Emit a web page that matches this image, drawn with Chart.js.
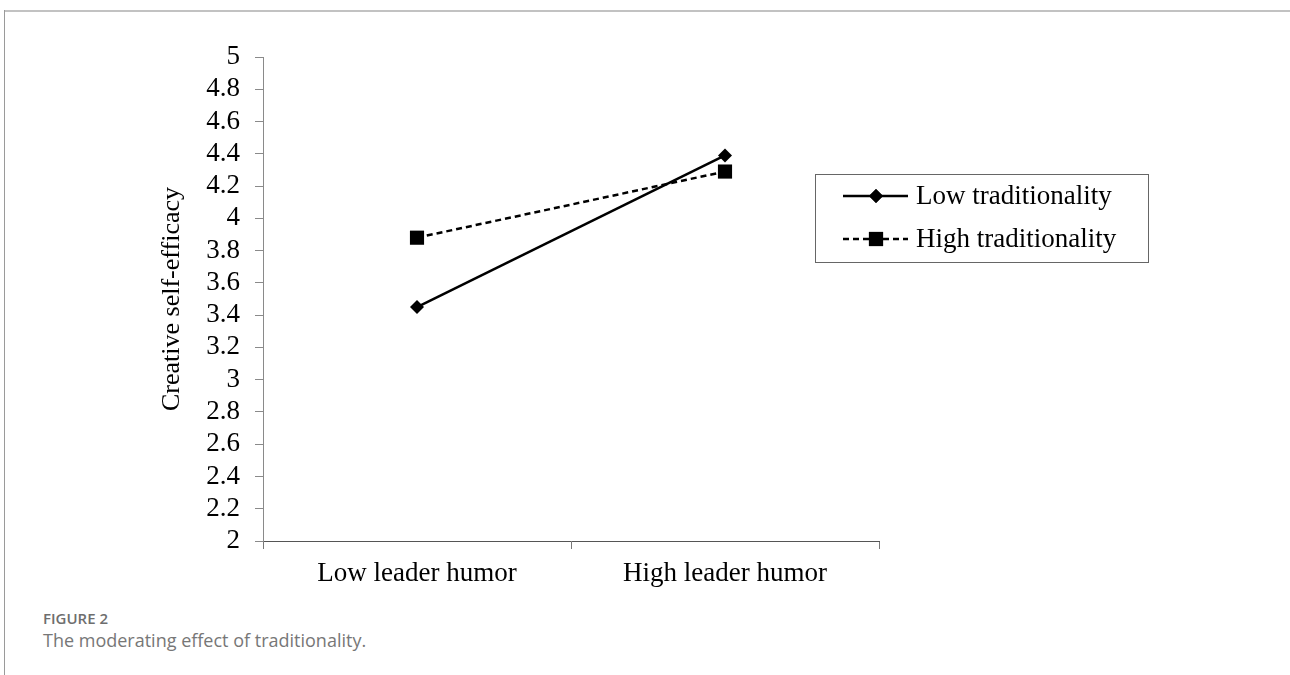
<!DOCTYPE html>
<html>
<head>
<meta charset="utf-8">
<script src="https://cdn.jsdelivr.net/npm/chart.js@4"></script>
<style>
    html, body { margin: 0; padding: 0; background: #fff; }
    body { width: 1290px; height: 675px; position: relative; overflow: hidden; }
    .frame-top { position: absolute; left: 4px; top: 10px; right: 0; height: 2px; background: #c2c2c2; }
    .frame-left { position: absolute; left: 4px; top: 10px; bottom: 0; width: 1px; background: #9a9a9a; }
    #chart-box { position: absolute; left: 0; top: 0; width: 1290px; height: 600px; }
    .caption { position: absolute; left: 43px; font-family: "Open Sans", sans-serif; color: #777; }
    .caption.label { top: 608px; font-size: 15px; font-weight: 600; color: #6e6e6e; }
    .caption.text { top: 628px; font-size: 18px; }
</style>
</head>
<body>
<div class="frame-top"></div>
<div class="frame-left"></div>
<div id="chart-box"><canvas id="moderationChart"></canvas></div>
<div class="caption label">FIGURE 2</div>
<div class="caption text">The moderating effect of traditionality.</div>

<script>
// dados
const categorias = ['Low leader humor', 'High leader humor'];
const lowTraditionality = [3.45, 4.39];
const highTraditionality = [3.88, 4.29];
const nomesSeries = ['Low traditionality', 'High traditionality'];
const eixoY = { min: 2, max: 5, passo: 0.2 };

const SERIF = '"Liberation Serif", "Times New Roman", serif';

// legenda com moldura, desenhada dentro do canvas
const legendaCaixa = {
    id: 'legendaCaixa',
    afterDraw(chart) {
        const ctx = chart.ctx;
        const box = { x: 815, y: 174, w: 333, h: 88 };
        ctx.save();
        ctx.strokeStyle = '#666';
        ctx.lineWidth = 1;
        ctx.strokeRect(box.x + 0.5, box.y + 0.5, box.w, box.h);

        chart.data.datasets.forEach((ds, i) => {
            const y = box.y + 22 + i * 43;
            ctx.strokeStyle = ds.borderColor;
            ctx.lineWidth = ds.borderWidth;
            ctx.setLineDash(ds.borderDash || []);
            ctx.beginPath();
            ctx.moveTo(843, y);
            ctx.lineTo(908, y);
            ctx.stroke();
            ctx.setLineDash([]);
            Chart.helpers.drawPoint(ctx, {
                pointStyle: ds.pointStyle,
                radius: ds.pointRadius,
                borderWidth: 0
            }, 876, y);
            ctx.fillStyle = '#000';
            ctx.fill();
            ctx.font = '27px ' + SERIF;
            ctx.textAlign = 'left';
            ctx.textBaseline = 'middle';
            ctx.fillText(ds.label, 916, y + 1);
        });
        ctx.restore();
    }
};

const ctx = document.getElementById('moderationChart').getContext('2d');
new Chart(ctx, {
    type: 'line',
    data: {
        labels: categorias,
        datasets: [
            {
                label: nomesSeries[0],
                data: lowTraditionality,
                borderColor: '#000', backgroundColor: '#000',
                borderWidth: 2.5,
                pointStyle: 'rectRot', pointRadius: 7,
                pointBorderWidth: 0, pointBackgroundColor: '#000'
            },
            {
                label: nomesSeries[1],
                data: highTraditionality,
                borderColor: '#000', backgroundColor: '#000',
                borderWidth: 2.5, borderDash: [6, 4],
                pointStyle: 'rect', pointRadius: 10,
                pointBorderWidth: 0, pointBackgroundColor: '#000'
            }
        ]
    },
    options: {
        responsive: true,
        maintainAspectRatio: false,
        animation: false,
        layout: { padding: { left: 157, right: 411, top: 57, bottom: 0 } },
        plugins: { legend: { display: false }, tooltip: { enabled: false } },
        scales: {
            x: {
                offset: true,
                afterFit: (scale) => { scale.height = 59; },
                border: { color: '#555', width: 1 },
                grid: { offset: true, drawOnChartArea: false, drawTicks: true, tickLength: 8, color: '#777' },
                ticks: { color: '#000', padding: 9, font: { family: SERIF, size: 27 } }
            },
            y: {
                min: eixoY.min,
                max: eixoY.max,
                afterFit: (scale) => { scale.width = 106; },
                border: { color: '#8a8a8a', width: 1 },
                grid: { drawOnChartArea: false, drawTicks: true, tickLength: 8, color: '#8a8a8a' },
                ticks: {
                    stepSize: eixoY.passo,
                    autoSkip: false,
                    padding: 15,
                    color: '#000',
                    font: { family: SERIF, size: 27 },
                    callback: (v) => String(+v.toFixed(1))
                },
                title: {
                    display: true,
                    text: 'Creative self-efficacy',
                    color: '#000',
                    padding: 0,
                    font: { family: SERIF, size: 26 }
                }
            }
        }
    },
    plugins: [legendaCaixa]
});
</script>
</body>
</html>
